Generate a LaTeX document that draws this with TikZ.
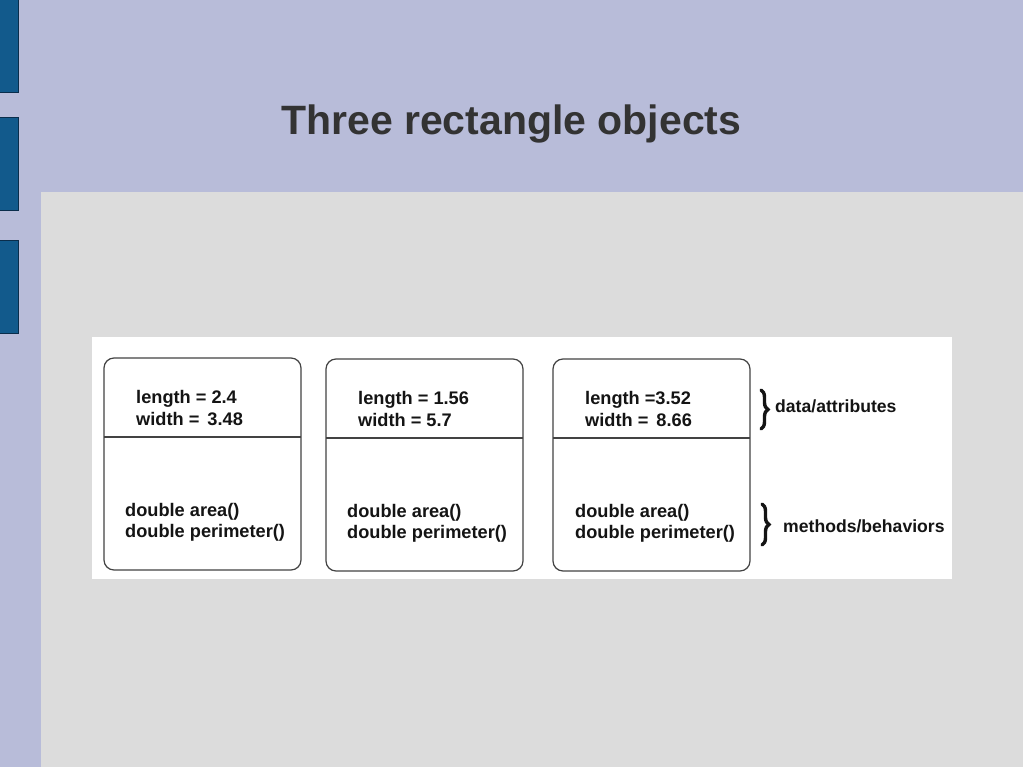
\documentclass[tikz,border=0pt]{standalone}
\usepackage{fontspec}
\setmainfont{Liberation Sans}
\usetikzlibrary{decorations.pathreplacing}
\definecolor{lavbg}{RGB}{184,188,217}
\definecolor{panelgray}{RGB}{220,220,220}
\definecolor{tabblue}{RGB}{18,90,140}
\definecolor{tabedge}{RGB}{10,45,75}
\definecolor{titlegray}{RGB}{51,51,51}
\definecolor{inkc}{RGB}{20,20,20}
\begin{document}
\begin{tikzpicture}[x=1pt,y=-1pt,
  tab/.style={fill=tabblue,draw=tabedge,line width=1pt},
  objbox/.style={draw=inkc!80,line width=1.2pt,rounded corners=10pt},
  divline/.style={draw=inkc!80,line width=1.2pt},
  boxtxt/.style={anchor=base west,inner sep=0pt,font=\fontsize{18.2}{20}\selectfont\bfseries,text=inkc},
  lbltxt/.style={anchor=base west,inner sep=0pt,font=\fontsize{17.6}{20}\selectfont\bfseries,text=inkc},
  bracedec/.style={decorate,decoration={brace,amplitude=7pt,raise=0pt},line width=3.4pt,draw=inkc,line cap=round}
]
\useasboundingbox (0,0) rectangle (1023,767);
\fill[lavbg] (0,0) rectangle (1023,767);
\fill[panelgray] (41,192) rectangle (1023,767);
\draw[tab] (-2,0) rectangle (18,93);
\draw[tab] (-2,118) rectangle (18,211);
\draw[tab] (-2,241) rectangle (18,334);
\node[anchor=base west,inner sep=0pt,font=\fontsize{41}{44}\selectfont\bfseries,text=titlegray] (title) at (281,135) {Three rectangle objects};
\fill[white] (92,337) rectangle (952,579);
% box 1
\draw[objbox] (104,358) rectangle (301,570);
\coordinate (d1a) at (104,437); \coordinate (d1b) at (301,437);
\draw[divline] (d1a) -- (d1b);
\node[boxtxt] (l1) at (136,403) {length = 2.4};
\node[boxtxt] (w1) at (136,425) {width = \hspace{3pt}3.48};
\node[boxtxt] (a1) at (125,516) {double area()};
\node[boxtxt] (p1) at (125,537) {double perimeter()};
% box 2
\draw[objbox] (326,359) rectangle (523,571);
\coordinate (d2a) at (326,438); \coordinate (d2b) at (523,438);
\draw[divline] (d2a) -- (d2b);
\node[boxtxt] (l2) at (358,404) {length = 1.56};
\node[boxtxt] (w2) at (358,426) {width = 5.7};
\node[boxtxt] (a2) at (347,517) {double area()};
\node[boxtxt] (p2) at (347,538) {double perimeter()};
% box 3
\draw[objbox] (553,359) rectangle (750,571);
\coordinate (d3a) at (553,438); \coordinate (d3b) at (750,438);
\draw[divline] (d3a) -- (d3b);
\node[boxtxt] (l3) at (585,404) {length =3.52};
\node[boxtxt] (w3) at (585,426) {width = \hspace{3pt}8.66};
\node[boxtxt] (a3) at (575,517) {double area()};
\node[boxtxt] (p3) at (575,538) {double perimeter()};
% braces and labels
\coordinate (b1t) at (761,390); \coordinate (b1b) at (761,429);
\draw[bracedec] (b1t) -- (b1b);
\node[lbltxt] (data) at (775,412) {data/attributes};
\coordinate (b2t) at (762,504); \coordinate (b2b) at (762,545);
\draw[bracedec] (b2t) -- (b2b);
\node[lbltxt] (meth) at (783,532) {methods/behaviors};
\end{tikzpicture}
\end{document}
